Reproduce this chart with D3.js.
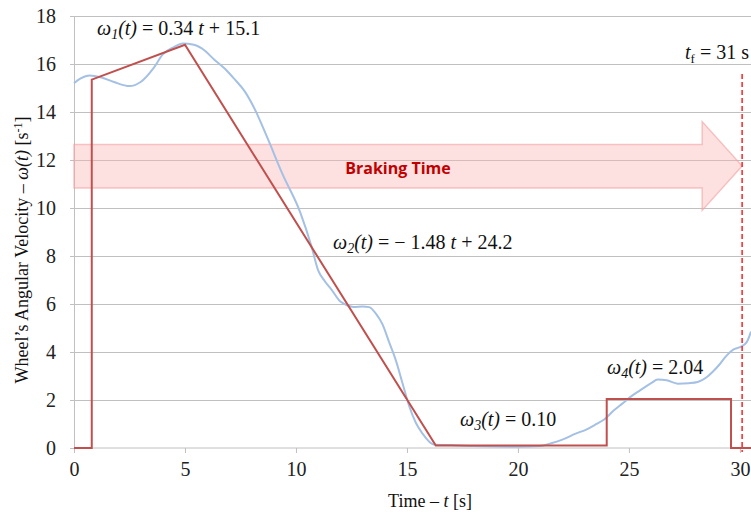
<!DOCTYPE html>
<html><head><meta charset="utf-8">
<script src="https://cdn.jsdelivr.net/npm/d3@7"></script>
<style>
body{margin:0;background:#fff;}
svg{display:block;}
.serif{font-family:"Liberation Serif","Times New Roman",Times,serif;}
</style></head>
<body>
<svg id="chart" width="751" height="516"></svg>
<script>
// Data
const xTicks = [0, 5, 10, 15, 20, 25, 30];
const yTicks = [0, 2, 4, 6, 8, 10, 12, 14, 16, 18];
// Fitted piecewise model (red)
const modelT = [0, 0.8, 0.8, 5.0, 16.3, 24.0, 24.0, 29.6, 29.6, 30.5];
const modelW = [0, 0, 15.35, 16.8, 0.1, 0.1, 2.04, 2.04, 0, 0];
// Measured angular velocity (blue)
const measT = [0, 0.3, 0.7, 1.2, 1.8, 2.5, 3.0, 3.6, 4.0, 4.5, 4.9, 5.4, 5.9, 6.3, 6.8, 7.2, 7.7, 8.1, 8.7, 9.4, 10.2, 10.7, 11.0, 11.3, 11.6, 12.0, 12.3, 12.6, 13.0, 13.3, 13.6, 13.9, 14.2, 14.5, 14.8, 15.1, 15.4, 15.7, 16.2, 17.0, 18.0, 19.0, 20.0, 21.0, 21.5, 22.0, 22.6, 23.1, 23.5, 23.9, 24.3, 24.7, 25.1, 25.5, 26.0, 26.3, 26.7, 27.2, 27.7, 28.1, 28.5, 28.8, 29.1, 29.4, 29.7, 30.0, 30.3, 30.5];
const measW = [15.2, 15.4, 15.52, 15.45, 15.25, 15.08, 15.25, 15.85, 16.4, 16.7, 16.85, 16.8, 16.55, 16.2, 15.8, 15.4, 14.85, 14.2, 12.95, 11.4, 9.8, 8.4, 7.4, 6.95, 6.6, 6.1, 5.95, 5.88, 5.9, 5.87, 5.6, 5.15, 4.4, 3.65, 2.7, 1.75, 1.05, 0.6, 0.15, 0.12, 0.08, 0.06, 0.05, 0.08, 0.2, 0.35, 0.6, 0.78, 0.98, 1.2, 1.55, 1.85, 2.15, 2.4, 2.7, 2.85, 2.82, 2.68, 2.7, 2.75, 2.95, 3.2, 3.5, 3.85, 4.1, 4.2, 4.4, 4.85];
const tFinal = 30.1;

const svg = d3.select("#chart");
const x = d3.scaleLinear().domain([0, 30.5]).range([74, 751]);
const y = d3.scaleLinear().domain([0, 18]).range([448, 16]);

// gridlines
svg.append("g").selectAll("line").data(yTicks.filter(d => d > 0)).join("line")
  .attr("x1", 70).attr("x2", 751)
  .attr("y1", d => y(d)).attr("y2", d => y(d))
  .attr("stroke", "#c0c0c0").attr("stroke-width", 1).attr("shape-rendering", "crispEdges");

// y axis
const yAxis = svg.append("g").attr("transform", "translate(74,0)")
  .call(d3.axisLeft(y).tickValues(yTicks).tickSize(4).tickPadding(14));
yAxis.attr("font-family", null).attr("font-size", null).classed("serif", true);
yAxis.select(".domain").attr("stroke", "#c0c0c0");
yAxis.selectAll(".tick line").attr("stroke", "#c0c0c0");
yAxis.selectAll("text").style("font-size", "20px").attr("fill", "#222");

// x axis
const xAxis = svg.append("g").attr("transform", "translate(0,448)")
  .call(d3.axisBottom(x).tickValues(xTicks).tickSize(5).tickPadding(9));
xAxis.attr("font-family", null).attr("font-size", null).classed("serif", true);
xAxis.select(".domain").attr("stroke", "#c0c0c0").attr("d", "M74,0H751");
xAxis.selectAll(".tick line").attr("stroke", "#c0c0c0");
xAxis.selectAll("text").style("font-size", "20px").attr("fill", "#222");

// arrow
const ax0 = 0, axBase = 28.3, axTip = tFinal;
const arrowPts = [
  [ax0, 12.65], [axBase, 12.65], [axBase, 13.6], [axTip, 11.75],
  [axBase, 9.9], [axBase, 10.83], [ax0, 10.83]
];
svg.append("path")
  .attr("d", d3.line().x(d => x(d[0])).y(d => y(d[1]))(arrowPts) + "Z")
  .attr("fill", "#f9b4b4").attr("fill-opacity", 0.4)
  .attr("stroke", "#f4a0a0").attr("stroke-opacity", 0.6).attr("stroke-width", 1.5);
svg.append("text").attr("x", 398).attr("y", 174).attr("text-anchor", "middle")
  .style("font-family", "'Open Sans','Liberation Sans',sans-serif").style("font-weight", "bold")
  .style("font-size", "16px").attr("fill", "#c00000").text("Braking Time");

// blue line
const line = d3.line().x(d => x(d[0])).y(d => y(d[1])).curve(d3.curveMonotoneX);
svg.append("path").datum(measT.map((t, i) => [t, measW[i]]))
  .attr("d", line).attr("fill", "none").attr("stroke", "#a4c0e4").attr("stroke-width", 2);

// red model
svg.append("path").datum(modelT.map((t, i) => [t, modelW[i]]))
  .attr("d", d3.line().x(d => x(d[0])).y(d => y(d[1])))
  .attr("fill", "none").attr("stroke", "#c0504d").attr("stroke-width", 2);

// t_f dashed
svg.append("line").attr("x1", x(tFinal)).attr("x2", x(tFinal)).attr("y1", 74).attr("y2", 452)
  .attr("stroke", "#ff2020").attr("stroke-width", 1.5).attr("stroke-dasharray", "5,3");

// equation labels
function eq(xp, yp, sub, rest) {
  const t = svg.append("text").attr("x", xp).attr("y", yp).classed("serif", true)
    .style("font-size", "20px").attr("fill", "#111");
  t.append("tspan").style("font-style", "italic").text("ω");
  t.append("tspan").style("font-style", "italic").style("font-size", "14px").attr("dy", 4).text(sub);
  t.append("tspan").style("font-style", "italic").attr("dy", -4).text("(t)");
  rest.forEach(r => t.append("tspan").style("font-style", r[1] ? "italic" : "normal").text(r[0]));
}
eq(97, 35, "1", [[" = 0.34 ", false], ["t", true], [" + 15.1", false]]);
eq(333, 249, "2", [[" = − 1.48 ", false], ["t", true], [" + 24.2", false]]);
eq(460, 426, "3", [[" = 0.10", false]]);
eq(607, 374, "4", [[" = 2.04", false]]);

// t_f label
const tf = svg.append("text").attr("x", 685).attr("y", 59).classed("serif", true)
  .style("font-size", "20px").attr("fill", "#111");
tf.append("tspan").style("font-style", "italic").text("t");
tf.append("tspan").style("font-size", "13px").attr("dy", 4).text("f");
tf.append("tspan").attr("dy", -4).text(" = 31 s");

// axis titles
const yt = svg.append("text").attr("transform", "translate(28,250) rotate(-90)").classed("serif", true)
  .attr("text-anchor", "middle").style("font-size", "18px").attr("fill", "#111");
yt.append("tspan").text("Wheel’s Angular Velocity – ");
yt.append("tspan").style("font-style", "italic").text("ω(t)");
yt.append("tspan").text(" [s");
yt.append("tspan").style("font-size", "12px").attr("dy", -6).text("-1");
yt.append("tspan").attr("dy", 6).text("]");

const xt = svg.append("text").attr("x", 430).attr("y", 507).classed("serif", true)
  .attr("text-anchor", "middle").style("font-size", "18px").attr("fill", "#111");
xt.append("tspan").text("Time – ");
xt.append("tspan").style("font-style", "italic").text("t");
xt.append("tspan").text(" [s]");
</script>
</body></html>
